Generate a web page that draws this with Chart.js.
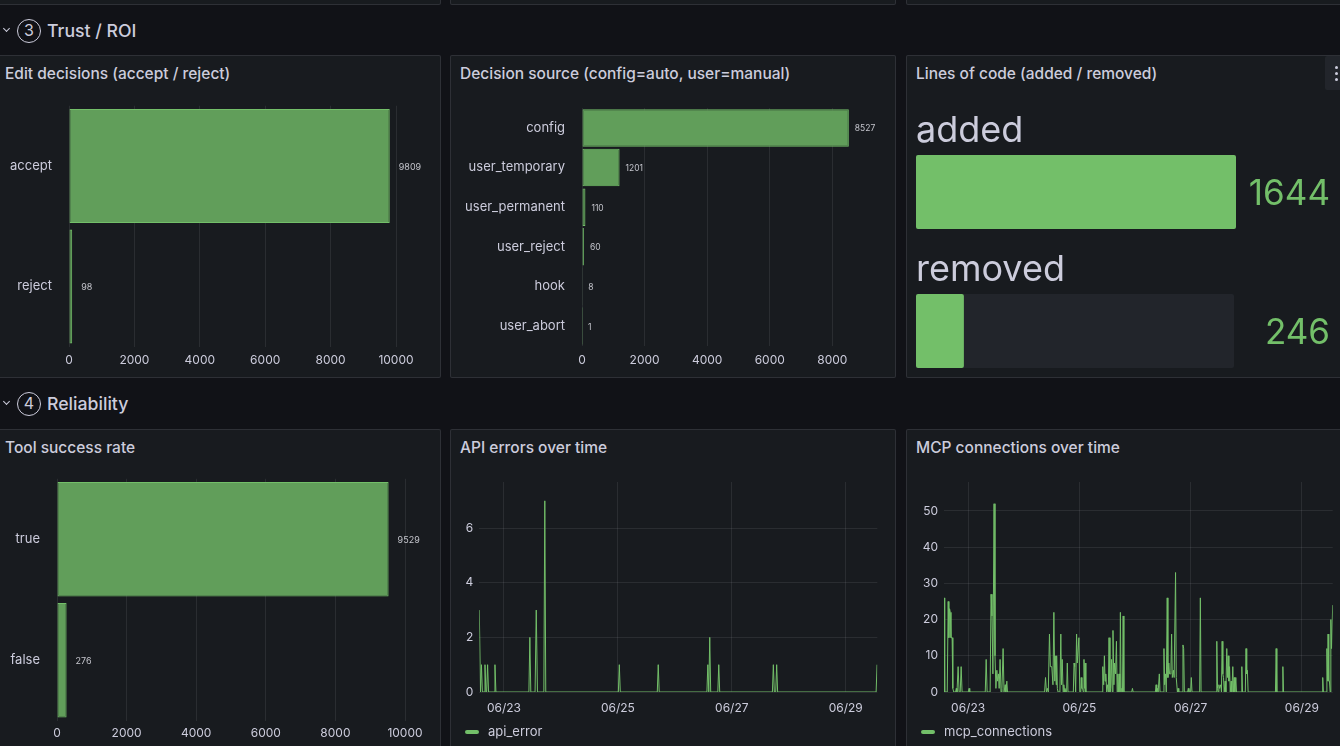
<!DOCTYPE html>
<html>
<head>
<meta charset="utf-8">
<script src="https://cdn.jsdelivr.net/npm/chart.js@4.4.1/dist/chart.umd.min.js"></script>
<style>
  body { margin: 0; background: #111217; width: 1340px; height: 746px; overflow: hidden; position: relative; font-family: Inter, sans-serif; color: #ccccdc; }
  .panel { position: absolute; background: #181b1f; border: 1px solid rgba(204,204,220,0.12); border-radius: 2px; box-sizing: border-box; }
  .title { position: absolute; font-size: 15.5px; font-weight: 500; line-height: 18px; white-space: nowrap; }
  .row { position: absolute; left: 0; height: 26px; }
  .row .chev { position: absolute; left: 4px; top: 8px; width: 4px; height: 4px; border-right: 1.5px solid #ccccdc; border-bottom: 1.5px solid #ccccdc; transform: rotate(45deg); }
  .row .num { position: absolute; left: 17px; top: 1px; width: 24px; height: 24px; box-sizing: border-box; border: 1.5px solid #ccccdc; border-radius: 50%; font-size: 16px; line-height: 21px; text-align: center; }
  .row .txt { position: absolute; left: 47px; top: 0; font-size: 17.7px; font-weight: 500; line-height: 26px; white-space: nowrap; }
  canvas { position: absolute; }
  .menu { position: absolute; left: 1325px; top: 56px; width: 20px; height: 34px; background: #22252b; border-radius: 2px; }
  .menu span { position: absolute; left: 10px; width: 3px; height: 3px; border-radius: 50%; background: #ccccdc; }
</style>
</head>
<body>

<div class="panel" style="left:-4px;top:-20px;width:445px;height:25px"></div>
<div class="panel" style="left:450px;top:-20px;width:446px;height:25px"></div>
<div class="panel" style="left:906px;top:-20px;width:440px;height:25px"></div>

<div class="row" style="top:18px"><div class="chev"></div><div class="num">3</div><div class="txt">Trust / ROI</div></div>

<div class="panel" style="left:-4px;top:55px;width:445px;height:323px"></div>
<div class="panel" style="left:450px;top:55px;width:446px;height:323px"></div>
<div class="panel" style="left:906px;top:55px;width:440px;height:323px"></div>
<div class="menu"><span style="top:10px"></span><span style="top:16px"></span><span style="top:22px"></span></div>

<div class="title" style="left:5px;top:65px">Edit decisions (accept / reject)</div>
<div class="title" style="left:460px;top:65px">Decision source (config=auto, user=manual)</div>
<div class="title" style="left:916px;top:65px">Lines of code (added / removed)</div>

<div class="row" style="top:391px"><div class="chev"></div><div class="num">4</div><div class="txt">Reliability</div></div>

<div class="panel" style="left:-4px;top:429px;width:445px;height:340px"></div>
<div class="panel" style="left:450px;top:429px;width:446px;height:340px"></div>
<div class="panel" style="left:906px;top:429px;width:440px;height:340px"></div>

<div class="title" style="left:5px;top:439px">Tool success rate</div>
<div class="title" style="left:460px;top:439px">API errors over time</div>
<div class="title" style="left:916px;top:439px">MCP connections over time</div>

<canvas id="editChart" width="440" height="280" style="left:0;top:95px"></canvas>
<canvas id="sourceChart" width="444" height="280" style="left:451px;top:95px"></canvas>
<canvas id="locChart" width="433" height="325" style="left:907px;top:95px"></canvas>
<canvas id="toolChart" width="440" height="278" style="left:0;top:468px"></canvas>
<canvas id="apiChart" width="444" height="276" style="left:451px;top:470px"></canvas>
<canvas id="mcpChart" width="433" height="276" style="left:907px;top:470px"></canvas>

<script>
// --- data ---
const editLabels = ["accept", "reject"];
const editValues = [9809, 98];
const editTicks = [0, 2000, 4000, 6000, 8000, 10000];

const sourceLabels = ["config", "user_temporary", "user_permanent", "user_reject", "hook", "user_abort"];
const sourceValues = [8527, 1201, 110, 60, 8, 1];
const sourceTicks = [0, 2000, 4000, 6000, 8000];

const locLabels = ["added", "removed"];
const locValues = [1644, 246];

const toolLabels = ["true", "false"];
const toolValues = [9529, 276];
const toolTicks = [0, 2000, 4000, 6000, 8000, 10000];

// time axis: hours since 06/22 00:00
const dateTicks = [24, 72, 120, 168];
const dateLabels = ["06/23", "06/25", "06/27", "06/29"];

const apiName = "api_error";
const apiTicks = [0, 2, 4, 6];
const apiErrors = [
  [13.6, 3], [14.1, 0], [14.5, 1], [14.9, 0], [15.6, 0], [16.0, 1], [16.4, 0], [16.7, 0], [17.1, 1], [17.5, 0],
  [19.8, 0], [20.2, 1], [20.6, 0], [34.5, 0], [34.9, 2], [35.3, 0], [37.1, 0], [37.6, 3], [38.1, 0],
  [40.8, 0], [41.2, 7], [41.6, 0], [72.2, 0], [72.6, 1], [73.0, 0], [88.6, 0], [89.0, 1], [89.4, 0],
  [109.5, 0], [109.9, 1], [110.3, 0], [110.7, 2], [111.1, 0], [114.1, 0], [114.5, 1], [114.9, 0],
  [137.1, 0], [137.5, 1], [137.9, 0], [138.5, 0], [138.9, 1], [139.3, 0], [180.8, 0], [181.2, 1]
];

const mcpName = "mcp_connections";
const mcpTicks = [0, 10, 20, 30, 40, 50];
const mcpConnections = [
  [13.6, 26], [13.9, 0], [15.0, 0], [15.4, 25], [15.7, 15], [16.0, 23], [16.3, 22], [16.6, 15], [17.1, 15], [17.4, 1], [17.8, 0],
  [18.6, 0], [18.9, 1], [19.2, 0], [19.7, 7], [20.1, 0], [20.6, 0], [21.0, 7], [21.4, 0], [24.1, 0], [24.4, 1], [24.7, 0],
  [31.4, 0], [31.8, 9], [32.2, 0], [33.5, 0], [33.9, 27], [34.3, 21], [34.7, 5], [35.2, 52], [35.6, 10], [36.0, 1], [36.4, 6],
  [36.7, 3], [37.1, 5], [37.4, 1], [37.8, 9], [38.2, 0], [38.6, 1], [39.1, 12], [39.5, 0], [40.0, 2], [40.3, 0], [40.7, 3], [41.0, 0],
  [57.0, 0], [57.4, 4], [57.8, 0], [58.2, 1], [58.6, 0], [59.1, 16], [59.5, 7], [60.1, 7], [60.6, 2], [61.0, 22], [61.4, 3],
  [61.6, 10], [62.0, 2], [62.2, 10], [62.5, 1], [62.8, 0], [63.6, 0], [64.0, 16], [64.3, 2], [64.6, 9], [65.0, 0], [65.3, 2],
  [65.6, 0], [65.8, 1], [66.1, 0], [66.5, 0], [66.8, 8], [67.1, 0],
  [69.4, 0], [69.7, 8], [70.0, 7], [70.4, 0], [70.8, 16], [71.1, 8], [71.4, 8], [71.8, 15], [72.2, 0], [72.6, 0], [72.8, 4],
  [73.1, 1], [73.4, 1], [73.7, 0], [74.0, 9], [74.3, 1], [74.5, 8], [74.8, 0],
  [81.8, 0], [82.1, 7], [82.5, 2], [82.8, 10], [83.1, 3], [83.4, 5], [83.8, 0], [84.2, 2], [84.5, 0], [84.8, 15], [85.2, 0],
  [85.5, 1], [85.9, 9], [86.2, 0], [86.5, 17], [86.9, 2], [87.2, 8], [87.6, 5], [88.0, 14], [88.3, 0], [88.6, 5], [88.9, 0],
  [89.2, 5], [89.5, 0], [89.7, 22], [90.0, 0], [90.3, 1], [90.6, 0], [90.9, 21], [91.2, 0],
  [94.6, 0], [94.9, 1], [95.2, 0],
  [104.8, 0], [105.1, 2], [105.4, 0], [105.7, 1], [106.0, 0], [106.5, 5], [106.8, 0], [108.2, 0], [108.5, 12], [108.8, 2],
  [109.2, 5], [109.5, 0], [109.9, 26], [110.2, 4], [110.6, 8], [110.9, 5], [111.2, 5], [111.5, 6], [111.8, 16], [112.1, 4],
  [112.3, 4], [112.6, 6], [112.9, 4], [113.2, 4], [113.5, 33], [113.8, 4], [114.0, 4], [114.3, 0], [114.6, 1], [114.9, 0],
  [116.4, 0], [116.7, 13], [117.0, 12], [117.3, 0], [118.7, 0], [119.0, 1], [119.3, 0], [120.0, 0], [120.3, 4], [120.6, 0],
  [123.9, 0], [124.2, 26], [124.5, 0],
  [131.0, 0], [131.3, 14], [131.6, 1], [131.9, 0], [132.2, 2], [132.5, 1], [133.0, 2], [133.3, 0], [133.6, 14], [133.9, 5],
  [134.2, 4], [134.5, 0], [134.9, 3], [135.2, 0], [135.6, 12], [135.9, 4], [136.2, 10], [136.5, 3], [136.8, 7], [137.1, 0],
  [137.5, 3], [137.8, 0], [138.2, 7], [138.5, 0], [138.8, 4], [139.1, 0], [139.5, 4], [139.8, 0],
  [141.8, 0], [142.1, 7], [142.4, 0], [143.6, 0], [143.9, 12], [144.2, 5], [144.5, 6], [144.8, 0],
  [156.6, 0], [156.9, 12], [157.2, 0], [159.5, 0], [159.8, 7], [160.1, 0],
  [176.7, 0], [177.0, 4], [177.3, 0], [178.5, 0], [178.8, 12], [179.1, 3], [179.3, 16], [179.6, 3], [179.9, 3], [180.2, 0],
  [180.5, 20], [180.8, 12], [181.3, 24]
];

// --- styles ---
const green = "#73bf69";
const barFill = "#619e5a";
const textColor = "#ccccdc";
const gridColor = "rgba(204,204,220,0.1)";
Chart.defaults.font.family = "Inter, sans-serif";
Chart.defaults.color = textColor;

// layout is fixed by hand, so drop the padding chart.js adds for edge labels
function noPad(s) {
  s.paddingTop = 0; s.paddingBottom = 0; s.paddingLeft = 0; s.paddingRight = 0;
}

const valueLabels = {
  id: "valueLabels",
  afterDatasetsDraw(chart, args, opts) {
    const ctx = chart.ctx;
    const values = chart.data.datasets[0].data;
    ctx.save();
    ctx.font = opts.size + "px Inter";
    ctx.fillStyle = "#c4c5cc";
    ctx.textBaseline = "middle";
    chart.getDatasetMeta(0).data.forEach((bar, i) => {
      ctx.fillText(values[i], bar.x + opts.gap, bar.y + 1);
    });
    ctx.restore();
  }
};

function barChart(id, labels, values, ticks, o) {
  return new Chart(document.getElementById(id), {
    type: "bar",
    data: {
      labels: labels,
      datasets: [{ data: values, backgroundColor: barFill, borderColor: green, borderWidth: 1,
        borderSkipped: false, barPercentage: 0.947, categoryPercentage: 1 }]
    },
    options: {
      indexAxis: "y",
      responsive: false,
      animation: false,
      layout: { padding: { top: o.top, right: o.right, left: 0, bottom: 0 } },
      plugins: { legend: { display: false }, tooltip: { enabled: false }, valueLabels: { size: o.labelSize, gap: o.gap } },
      scales: {
        x: {
          min: 0, max: o.max,
          grid: { color: gridColor, drawTicks: false },
          border: { display: false },
          ticks: { color: textColor, font: { size: 12 }, padding: o.tickPad, maxRotation: 0, autoSkip: false,
            callback: (v) => String(v) },
          afterBuildTicks: (s) => { s.ticks = ticks.map((v) => ({ value: v })); },
          afterFit: (s) => { s.height = o.xh; noPad(s); }
        },
        y: {
          grid: { display: false, drawTicks: false },
          border: { display: false },
          ticks: { color: textColor, font: { size: 13 }, padding: 17 },
          afterFit: (s) => { s.width = o.yw; noPad(s); }
        }
      }
    },
    plugins: [valueLabels]
  });
}

barChart("editChart", editLabels, editValues, editTicks,
  { top: 10.75, right: 44, max: 10000, xh: 28.25, tickPad: 6, yw: 69, labelSize: 9, gap: 9 });
barChart("sourceChart", sourceLabels, sourceValues, sourceTicks,
  { top: 13.1, right: 34.5, max: 8900, xh: 29.2, tickPad: 7, yw: 131, labelSize: 8.5, gap: 6 });
barChart("toolChart", toolLabels, toolValues, toolTicks,
  { top: 10.8, right: 35, max: 10000, xh: 25.2, tickPad: 5, yw: 57, labelSize: 9, gap: 9 });

// bar gauge: track behind each bar, name above, value on the right
const gauge = {
  id: "gauge",
  beforeDatasetsDraw(chart) {
    const ctx = chart.ctx, area = chart.chartArea;
    ctx.save();
    ctx.fillStyle = "#22252b";
    chart.getDatasetMeta(0).data.forEach((bar) => {
      ctx.beginPath();
      ctx.roundRect(area.left, bar.y - bar.height / 2, area.width - 2, bar.height, 2);
      ctx.fill();
    });
    ctx.restore();
  },
  afterDatasetsDraw(chart) {
    const ctx = chart.ctx, area = chart.chartArea;
    ctx.save();
    chart.getDatasetMeta(0).data.forEach((bar, i) => {
      ctx.font = "36px Inter";
      ctx.textBaseline = "alphabetic";
      ctx.textAlign = "left";
      ctx.fillStyle = textColor;
      ctx.fillText(chart.data.labels[i], area.left, bar.y - bar.height / 2 - 13);
      ctx.font = "35px Inter";
      ctx.textAlign = "right";
      ctx.fillStyle = green;
      ctx.fillText(chart.data.datasets[0].data[i], 423, bar.y + 12.5);
    });
    ctx.restore();
  }
};

new Chart(document.getElementById("locChart"), {
  type: "bar",
  data: {
    labels: locLabels,
    datasets: [{ data: locValues, backgroundColor: green, barPercentage: 0.532, categoryPercentage: 1,
      borderRadius: 2, borderSkipped: false }]
  },
  options: {
    indexAxis: "y",
    responsive: false,
    animation: false,
    layout: { padding: { left: 9, right: 104, top: 27.5, bottom: 19.5 } },
    plugins: { legend: { display: false }, tooltip: { enabled: false } },
    scales: {
      x: { display: false, min: 0, max: Math.max(...locValues) },
      y: { display: false }
    }
  },
  plugins: [gauge]
});

// time series
const seriesLegend = {
  id: "seriesLegend",
  afterDraw(chart) {
    const ctx = chart.ctx;
    ctx.save();
    ctx.fillStyle = green;
    ctx.beginPath();
    ctx.roundRect(14, 260, 14, 4, 2);
    ctx.fill();
    ctx.font = "13px Inter";
    ctx.fillStyle = textColor;
    ctx.textBaseline = "middle";
    ctx.fillText(chart.data.datasets[0].label, 37, 262.5);
    ctx.restore();
  }
};

function lineChart(id, name, points, yTicks, o) {
  return new Chart(document.getElementById(id), {
    type: "line",
    data: {
      datasets: [{ label: name, data: points.map((p) => ({ x: p[0], y: p[1] })),
        borderColor: green, borderWidth: 1, pointRadius: 0, tension: 0, fill: false }]
    },
    options: {
      responsive: false,
      animation: false,
      layout: { padding: { top: 12, right: o.right, left: 0, bottom: 0 } },
      plugins: { legend: { display: false }, tooltip: { enabled: false } },
      scales: {
        x: {
          type: "linear", min: 13.6, max: 181.3,
          grid: { color: gridColor, drawTicks: false },
          border: { display: false },
          afterBuildTicks: (s) => { s.ticks = dateTicks.map((v) => ({ value: v })); },
          ticks: { color: textColor, font: { size: 12 }, padding: 9, maxRotation: 0, autoSkip: false,
            callback: (v, i) => dateLabels[i] },
          afterFit: (s) => { s.height = 54; noPad(s); }
        },
        y: {
          min: 0, max: o.max,
          grid: { color: gridColor, drawTicks: false },
          border: { display: false },
          ticks: { color: textColor, font: { size: 12 }, padding: 6, autoSkip: false, callback: (v) => String(v) },
          afterBuildTicks: (s) => { s.ticks = yTicks.map((v) => ({ value: v })); },
          afterFit: (s) => { s.width = o.yw; noPad(s); }
        }
      }
    },
    plugins: [seriesLegend]
  });
}

lineChart("apiChart", apiName, apiErrors, apiTicks, { max: 7.69, yw: 28.3, right: 17.7 });
lineChart("mcpChart", mcpName, mcpConnections, mcpTicks, { max: 58, yw: 37, right: 7.3 });
</script>
</body>
</html>
